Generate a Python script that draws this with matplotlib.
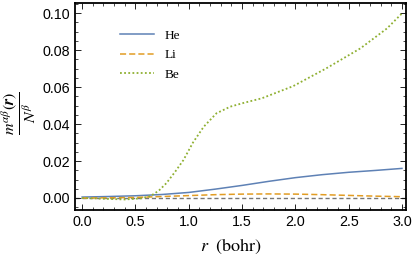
import matplotlib
matplotlib.use("Agg")
import matplotlib.pyplot as plt
from matplotlib.ticker import MultipleLocator

r_he = [0.0, 0.25, 0.5, 0.75, 1.0, 1.25, 1.5, 1.75, 2.0, 2.25, 2.5, 2.75, 3.0]
m_he = [0.0005, 0.0008, 0.0012, 0.0019, 0.0030, 0.0048, 0.0068, 0.0090, 0.0110, 0.0126, 0.0139, 0.0149, 0.0160]

r_li = [0.0, 0.25, 0.5, 0.75, 1.0, 1.25, 1.5, 1.75, 2.0, 2.25, 2.5, 2.75, 3.0]
m_li = [0.0, 0.0001, 0.0003, 0.0008, 0.0013, 0.0018, 0.0021, 0.0022, 0.0021, 0.0018, 0.0014, 0.0010, 0.0007]

r_be = [0.0, 0.2, 0.4, 0.55, 0.64, 0.72, 0.79, 0.87, 0.95, 1.04, 1.14, 1.26, 1.39, 1.52, 1.685,
        1.98, 2.29, 2.61, 2.86, 3.0]
m_be = [0.0, -0.0004, -0.0008, -0.0002, 0.0010, 0.0040, 0.0080, 0.0140, 0.0205, 0.0300, 0.0385,
        0.0458, 0.0494, 0.0515, 0.0539, 0.0605, 0.0701, 0.0809, 0.0917, 0.0998]

labels = ["He", "Li", "Be"]

plt.rcParams["mathtext.fontset"] = "stix"
fig = plt.figure(figsize=(4.15, 2.58), dpi=100)
ax = fig.add_axes([0.181, 0.186, 0.797, 0.802])

ax.axhline(0, color="#777777", lw=1.0, ls=(0, (3, 2)), zorder=1)
ax.plot(r_he, m_he, color="#5E81B5", lw=1.1, label=labels[0])
ax.plot(r_li, m_li, color="#E19C24", lw=1.1, ls=(0, (4, 2)), label=labels[1])
ax.plot(r_be, m_be, color="#8FB032", lw=1.3, ls=(0, (1, 1.3)), label=labels[2])

ax.set_xlim(-0.066, 3.037)
ax.set_ylim(-0.0065, 0.1054)
ax.xaxis.set_major_locator(MultipleLocator(0.5))
ax.xaxis.set_minor_locator(MultipleLocator(0.1))
ax.yaxis.set_major_locator(MultipleLocator(0.02))
ax.yaxis.set_minor_locator(MultipleLocator(0.005))
ax.xaxis.set_major_formatter(lambda v, p: f"{v:.1f}")
ax.yaxis.set_major_formatter(lambda v, p: f"{v:.2f}")
ax.tick_params(which="both", direction="in", top=True, right=True, labelsize=10.3)
ax.tick_params(which="major", length=4, width=0.6)
ax.tick_params(which="minor", length=2, width=0.5)
for lab in ax.get_xticklabels() + ax.get_yticklabels():
    lab.set_family("Liberation Sans")
for s in ax.spines.values():
    s.set_linewidth(1.3)

ax.set_xlabel(r"$r\ \ \mathrm{(bohr)}$", fontsize=13)
ax.xaxis.set_label_coords(0.47, -0.13)
fig.text(19 / 415, 1 - 113 / 258, r"$\dfrac{m^{\alpha\beta}(\boldsymbol{r})}{N^{\beta}}$",
         fontsize=11.5, rotation=90, ha="center", va="center")

ax.legend(loc="upper left", bbox_to_anchor=(0.1, 0.93), frameon=False, handlelength=2.6,
          labelspacing=0.55, prop={"family": "Liberation Serif", "size": 9.5})

fig.savefig("out.png", dpi=100)
